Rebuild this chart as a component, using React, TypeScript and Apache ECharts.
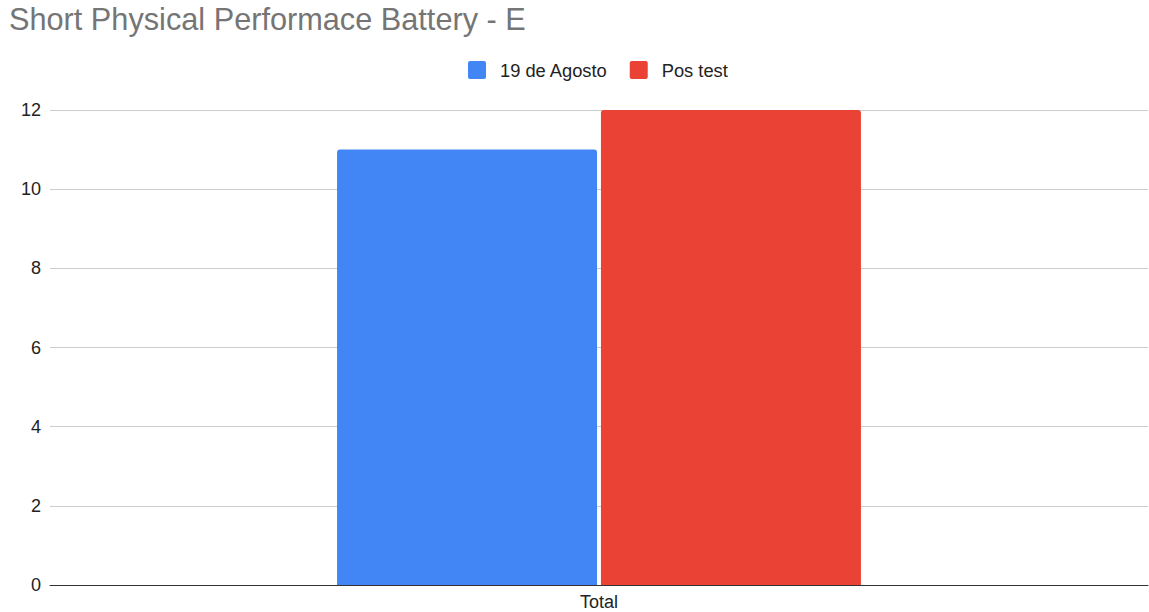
import React, { useEffect, useRef } from "react";
import * as echarts from "echarts";

const categories = ["Total"];
const seriesNames = ["19 de Agosto", "Pos test"];
const agostoValues = [11];
const posTestValues = [12];
const colors = ["#4285f4", "#ea4335"];

export default function App() {
  const ref = useRef<HTMLDivElement>(null);
  useEffect(() => {
    const chart = echarts.init(ref.current!, null, { renderer: "svg" });
    const font = "Arial, 'Liberation Sans', sans-serif";
    const icon =
      "path://M2,0 H16 A2,2 0 0 1 18,2 V16 A2,2 0 0 1 16,18 H2 A2,2 0 0 1 0,16 V2 A2,2 0 0 1 2,0 Z";
    chart.setOption({
      animation: false,
      title: {
        text: "Short Physical Performace Battery - E",
        left: 4,
        top: -1,
        textStyle: { color: "#757575", fontSize: 30.7, fontWeight: "normal", fontFamily: font },
      },
      legend: {
        top: 56,
        left: 463,
        itemWidth: 18,
        itemHeight: 18,
        itemGap: 22,
        icon,
        textStyle: { color: "#222", fontSize: 18.3, fontFamily: font, padding: [0, 0, 0, 9] },
        data: seriesNames,
      },
      grid: { left: 50, right: 1, top: 110, bottom: 27, containLabel: false },
      xAxis: {
        type: "category",
        data: categories,
        axisLine: { lineStyle: { color: "#333", width: 1 } },
        axisTick: { show: false },
        axisLabel: { color: "#222", fontSize: 18, fontFamily: font, margin: 8 },
      },
      yAxis: {
        type: "value",
        min: 0,
        max: 12,
        interval: 2,
        axisLine: { show: false },
        axisTick: { show: false },
        axisLabel: { color: "#222", fontSize: 18, fontFamily: font, margin: 9 },
        splitLine: { lineStyle: { color: "#cccccc", width: 1 } },
      },
      series: [
        {
          name: seriesNames[0],
          type: "bar",
          data: agostoValues,
          barWidth: 260,
          barGap: "1.5%",
          itemStyle: { color: colors[0], borderRadius: [3, 3, 0, 0] },
        },
        {
          name: seriesNames[1],
          type: "bar",
          data: posTestValues,
          barWidth: 260,
          barGap: "1.5%",
          itemStyle: { color: colors[1], borderRadius: [3, 3, 0, 0] },
        },
      ],
    });
    return () => chart.dispose();
  }, []);
  return (
    <div
      ref={ref}
      style={{ position: "fixed", left: 0, top: 0, width: 1149, height: 612, background: "#fff" }}
    />
  );
}
